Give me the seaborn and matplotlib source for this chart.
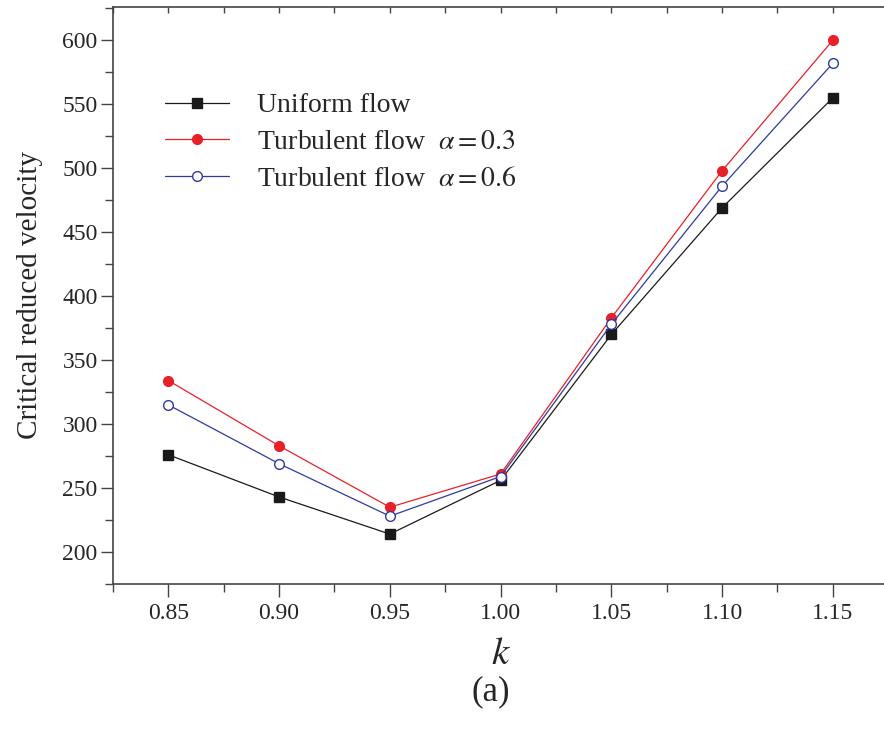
import numpy as np
import pandas as pd
import matplotlib
matplotlib.use("Agg")
import matplotlib.pyplot as plt
import seaborn as sns
from matplotlib.ticker import MultipleLocator

k = [0.85, 0.90, 0.95, 1.00, 1.05, 1.10, 1.15]
uniform = [276, 243, 214, 256, 370, 469, 555]
turb_03 = [334, 283, 235, 261, 383, 498, 600]
turb_06 = [315, 269, 228, 259, 378, 486, 582]
labels = ["Uniform flow", r"Turbulent flow  $\alpha = 0.3$", r"Turbulent flow  $\alpha = 0.6$"]

sns.set_theme(style="ticks")
plt.rcParams["font.family"] = ["Liberation Serif", "DejaVu Serif"]
plt.rcParams["mathtext.fontset"] = "stix"

fig = plt.figure(figsize=(8.84, 7.34), dpi=100)
ax = fig.add_axes([0.1278, 0.2044, 0.877, 0.7861])

series = [
    (uniform, labels[0], "#1a1a1a", "s", "#1a1a1a"),
    (turb_03, labels[1], "#e8202a", "o", "#e8202a"),
    (turb_06, labels[2], "#2e3a9e", "o", "white"),
]
for vals, lab, col, mk, fc in series:
    df = pd.DataFrame({"k": k, "v": vals})
    sns.lineplot(data=df, x="k", y="v", ax=ax, color=col, marker=mk,
                 markerfacecolor=fc, markeredgecolor=col, markersize=7,
                 markeredgewidth=1.0, linewidth=0.9, label=lab)

ax.set_xlim(0.825, 1.175)
ax.set_ylim(175, 626)
ax.xaxis.set_minor_locator(MultipleLocator(0.025))
ax.yaxis.set_minor_locator(MultipleLocator(25))
ax.set_xticks(k)
ax.set_xticklabels([f"{v:.2f}" for v in k])
ax.set_yticks([200, 250, 300, 350, 400, 450, 500, 550, 600])
ax.tick_params(axis="both", which="major", direction="out", length=9, width=1,
               labelsize=17, color="#444444")
ax.tick_params(axis="both", which="minor", direction="out", length=6, width=1,
               color="#444444")
ax.tick_params(axis="y", which="major", pad=2)
ax.tick_params(axis="x", which="major", pad=5)
for s in ax.spines.values():
    s.set_color("#444444")
    s.set_linewidth(1.2)

top = ax.secondary_xaxis("top")
top.set_xticks(k)
top.xaxis.set_minor_locator(MultipleLocator(0.025))
top.tick_params(axis="x", which="both", direction="in", length=4, width=1,
                color="#444444", labeltop=False)
top.spines["top"].set_visible(False)

ax.set_ylabel("Critical reduced velocity", fontsize=21, labelpad=14)
ax.set_xlabel("$k$", fontsize=28, labelpad=8)
fig.text(0.555, 0.058, "(a)", ha="center", va="center", fontsize=25)

leg = ax.legend(loc="upper left", bbox_to_anchor=(0.067, 0.851), frameon=False,
                fontsize=20, handlelength=2.3, handletextpad=1.0,
                labelspacing=0.4, borderpad=0, borderaxespad=0)

fig.savefig("out.png", dpi=100)
